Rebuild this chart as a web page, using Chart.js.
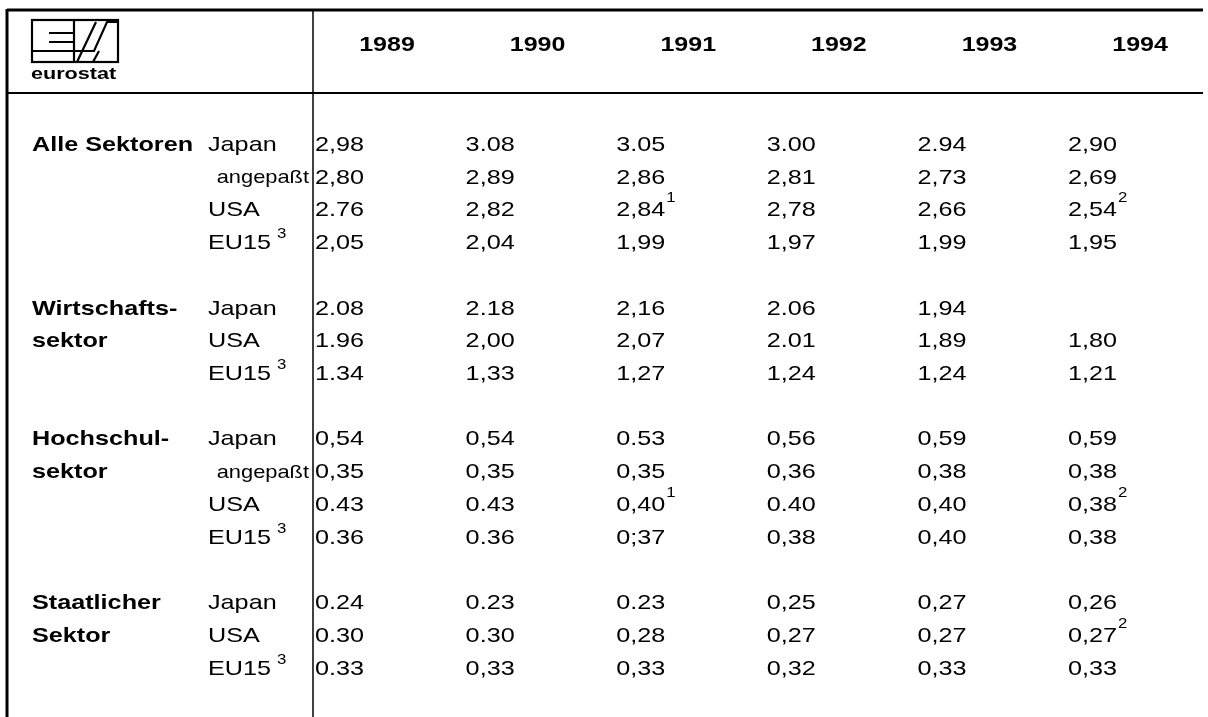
<!DOCTYPE html>
<html>
<head>
<meta charset="utf-8">
<script src="https://cdn.jsdelivr.net/npm/chart.js@4.4.0/dist/chart.umd.min.js"></script>
<style>
  body { margin: 0; background: #fff; }
</style>
</head>
<body>
<canvas id="tableChart" width="1208" height="717"></canvas>
<script>
// column headings
const years = ['1989', '1990', '1991', '1992', '1993', '1994'];

// sector headings (two lines where the table breaks them)
const sectors = [['Alle Sektoren'], ['Wirtschafts-', 'sektor'], ['Hochschul-', 'sektor'], ['Staatlicher', 'Sektor']];

// country labels per sector
const alleLabels = ['Japan', 'angepaßt', 'USA', 'EU15'];
const wirtLabels = ['Japan', 'USA', 'EU15'];
const hochLabels = ['Japan', 'angepaßt', 'USA', 'EU15'];
const staatLabels = ['Japan', 'USA', 'EU15'];

// values as printed
const alleJapan = ['2,98', '3.08', '3.05', '3.00', '2.94', '2,90'];
const alleAngepasst = ['2,80', '2,89', '2,86', '2,81', '2,73', '2,69'];
const alleUSA = ['2.76', '2,82', '2,84', '2,78', '2,66', '2,54'];
const alleEU15 = ['2,05', '2,04', '1,99', '1,97', '1,99', '1,95'];

const wirtJapan = ['2.08', '2.18', '2,16', '2.06', '1,94', null];
const wirtUSA = ['1.96', '2,00', '2,07', '2.01', '1,89', '1,80'];
const wirtEU15 = ['1.34', '1,33', '1,27', '1,24', '1,24', '1,21'];

const hochJapan = ['0,54', '0,54', '0.53', '0,56', '0,59', '0,59'];
const hochAngepasst = ['0,35', '0,35', '0,35', '0,36', '0,38', '0,38'];
const hochUSA = ['0.43', '0.43', '0,40', '0.40', '0,40', '0,38'];
const hochEU15 = ['0.36', '0.36', '0;37', '0,38', '0,40', '0,38'];

const staatJapan = ['0.24', '0.23', '0.23', '0,25', '0,27', '0,26'];
const staatUSA = ['0.30', '0.30', '0,28', '0,27', '0,27', '0,27'];
const staatEU15 = ['0.33', '0,33', '0,33', '0,32', '0,33', '0,33'];

// footnote marks
const alleUSANotes = [null, null, '1', null, null, '2'];
const hochUSANotes = [null, null, '1', null, null, '2'];
const staatUSANotes = [null, null, null, null, null, '2'];
const eu15Note = '3';

const groups = [
    { labels: alleLabels, series: [alleJapan, alleAngepasst, alleUSA, alleEU15], notes: [null, null, alleUSANotes, null] },
    { labels: wirtLabels, series: [wirtJapan, wirtUSA, wirtEU15], notes: [null, null, null] },
    { labels: hochLabels, series: [hochJapan, hochAngepasst, hochUSA, hochEU15], notes: [null, null, hochUSANotes, null] },
    { labels: staatLabels, series: [staatJapan, staatUSA, staatEU15], notes: [null, staatUSANotes, null] }
];

const FONT = '"Liberation Sans", Arial, Helvetica, sans-serif';
const STRETCH = 1.2;

// one dataset per table row, row index on y, column index on x
const datasets = [];
let rowIdx = 0;
groups.forEach((g, gi) => {
    g.series.forEach((vals, si) => {
        const pts = [];
        vals.forEach((v, i) => {
            if (v !== null) pts.push({ x: i, y: rowIdx, text: v, note: g.notes[si] ? g.notes[si][i] : null });
        });
        datasets.push({
            data: pts,
            pointRadius: 0,
            showLine: false,
            rowLabel: g.labels[si],
            sector: si < sectors[gi].length ? sectors[gi][si] : null,
            rowIdx: rowIdx
        });
        rowIdx++;
    });
    rowIdx++;
});

function stretchedText(ctx, text, x, y, font, align, stretch) {
    const k = stretch || STRETCH;
    ctx.save();
    ctx.font = font;
    const w = ctx.measureText(text).width * k;
    const left = align === 'right' ? x - w : (align === 'center' ? x - w / 2 : x);
    ctx.translate(left, y);
    ctx.scale(k, 1);
    ctx.textAlign = 'left';
    ctx.fillText(text, 0, 0);
    ctx.restore();
    return left + w;
}

const tablePlugin = {
    id: 'tablePlugin',
    beforeDraw(chart) {
        const ctx = chart.ctx;
        ctx.save();
        ctx.fillStyle = '#fff';
        ctx.fillRect(0, 0, chart.width, chart.height);
        ctx.restore();
    },
    afterDatasetsDraw(chart) {
        const ctx = chart.ctx;
        const area = chart.chartArea;
        const xs = chart.scales.x;
        const ys = chart.scales.y;
        ctx.save();
        ctx.fillStyle = '#000';
        ctx.textBaseline = 'middle';

        // frame
        ctx.strokeStyle = '#000';
        ctx.lineWidth = 3;
        ctx.beginPath();
        ctx.moveTo(7, 10);
        ctx.lineTo(area.right, 10);
        ctx.moveTo(7, 9);
        ctx.lineTo(7, chart.height);
        ctx.stroke();
        ctx.lineWidth = 2;
        ctx.beginPath();
        ctx.moveTo(7, area.top);
        ctx.lineTo(area.right, area.top);
        ctx.stroke();
        ctx.lineWidth = 1.5;
        ctx.beginPath();
        ctx.moveTo(area.left, 10);
        ctx.lineTo(area.left, chart.height);
        ctx.stroke();

        // logo
        ctx.lineWidth = 2.2;
        ctx.strokeRect(32, 20, 86, 42);
        ctx.beginPath();
        ctx.moveTo(49, 33); ctx.lineTo(74, 33);
        ctx.moveTo(49, 42); ctx.lineTo(74, 42);
        ctx.moveTo(32, 51); ctx.lineTo(74, 51);
        ctx.moveTo(74, 20); ctx.lineTo(74, 62);
        ctx.moveTo(77, 62); ctx.lineTo(96, 22);
        ctx.moveTo(74, 51); ctx.lineTo(94, 51); ctx.lineTo(107, 22); ctx.lineTo(118, 22);
        ctx.moveTo(93, 62); ctx.lineTo(99, 51);
        ctx.stroke();
        stretchedText(ctx, 'eurostat', 31, 75, 'bold 16px ' + FONT, 'left', 1.35);

        // year headings
        years.forEach((yr, i) => {
            stretchedText(ctx, yr, xs.getPixelForValue(i) + 72, 45, 'bold 20px ' + FONT, 'center', 1.25);
        });

        // row labels
        chart.data.datasets.forEach((ds) => {
            const y = ys.getPixelForValue(ds.rowIdx);
            if (ds.sector) stretchedText(ctx, ds.sector, 32, y, 'bold 21px ' + FONT, 'left');
            if (ds.rowLabel === 'angepaßt') {
                stretchedText(ctx, ds.rowLabel, area.left - 4, y, '19px ' + FONT, 'right', 1.15);
            } else {
                const end = stretchedText(ctx, ds.rowLabel, 208, y, '21px ' + FONT, 'left');
                if (ds.rowLabel === 'EU15') stretchedText(ctx, eu15Note, end + 6, y - 9, '14px ' + FONT, 'left');
            }
        });

        // cell values
        chart.data.datasets.forEach((ds, di) => {
            const meta = chart.getDatasetMeta(di);
            meta.data.forEach((el, j) => {
                const pt = ds.data[j];
                const end = stretchedText(ctx, pt.text, el.x, el.y, '21px ' + FONT, 'left');
                if (pt.note) stretchedText(ctx, pt.note, end + 1, el.y - 12, '14px ' + FONT, 'left');
            });
        });
        ctx.restore();
    }
};

new Chart(document.getElementById('tableChart').getContext('2d'), {
    type: 'scatter',
    data: { datasets: datasets },
    options: {
        responsive: false,
        animation: false,
        events: [],
        layout: { padding: { left: 313, top: 93, right: 5, bottom: 0 } },
        scales: {
            x: { type: 'linear', display: false, min: -0.0133, max: 5.896 },
            y: { type: 'linear', display: false, reverse: true, min: -1.588, max: 17.47 }
        },
        plugins: {
            legend: { display: false },
            tooltip: { enabled: false }
        }
    },
    plugins: [tablePlugin]
});
</script>
</body>
</html>
